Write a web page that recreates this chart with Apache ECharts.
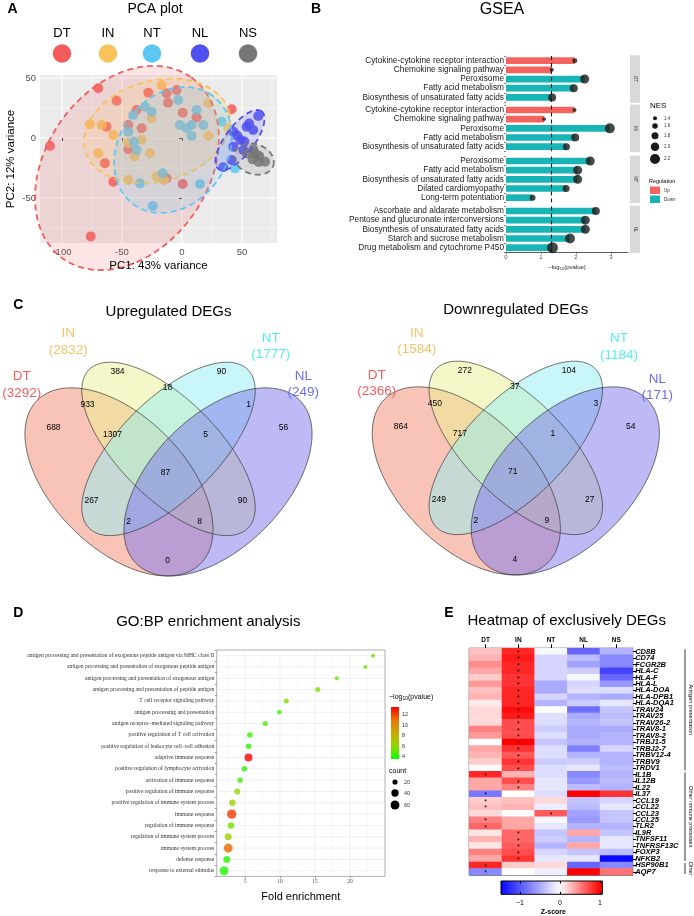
<!DOCTYPE html>
<html>
<head>
<meta charset="utf-8">
<title>figure</title>
<script src="https://cdn.jsdelivr.net/npm/echarts@6.0.0/dist/echarts.min.js"></script>
<style>
  html, body { margin: 0; padding: 0; background: #fff; }
  #fig { width: 694px; height: 916px; }
</style>
</head>
<body>
<div id="fig"></div>
<script>
var SANS = '"Liberation Sans", Arial, Helvetica, sans-serif';
var SERIF = '"Liberation Serif", "Times New Roman", serif';

// ---------- A: PCA ----------
var pcaGroups = ['DT', 'IN', 'NT', 'NL', 'NS'];
var pcaColors = ['#F45C5C', '#F8C35B', '#5DC8F3', '#5050F0', '#777777'];
var pcaDT = [[-69.7,41.4],[-110,-6.7],[-54.4,31.1],[-28,37.8],[-12.8,37.2],[-11.6,29.4],[-4.4,40],[0.6,21.1],[12.2,17.2],[41.4,23.9],[-44.7,10.8],[-33.6,8.1],[-44.7,-9.4],[-37.8,23.3],[-62.8,9.4],[-64.2,-21.1],[-57.2,-36.4],[-12.8,-33.6],[0.6,-38.3],[-76,-82]];
var pcaIN = [[-76.7,11.4],[-66.9,10.8],[-57.2,2.5],[-69.7,-12.8],[-44.7,-4.2],[-33.6,-1.4],[-39.2,-15.3],[-26.7,-12.8],[-25.3,16.4],[-16.9,44.2],[21.9,28.9],[21.9,1.7],[38.6,8.1],[-44.7,-35],[-21.1,-32.2],[-15,-35]];
var pcaNT = [[-40.6,19.2],[-30.8,26.1],[-25.3,21.9],[-44.7,5.3],[-37.8,-10],[-3.1,31.7],[-1.7,10.8],[12.2,23.3],[8.1,10.8],[17.8,10.8],[8.1,1.7],[3.9,8.1],[33.1,13.6],[-16.1,-29.4],[-35,-37.8],[15,-38.3],[-24.4,-56.7],[44.2,-25.3],[-40,-3]];
var pcaNL = [[63.6,18.3],[53.9,9.4],[42.8,5.3],[48.9,-1.7],[42.8,-7.2],[51.1,-10],[41.4,-18.3],[34.4,-24.4],[59.4,6.7],[52,-3],[46,2],[56,12]];
var pcaNS = [[59.4,-9.4],[64.4,-15],[69.2,-19.7],[58.9,-17.8],[53.9,-12.8],[64,-20],[61,-13]];
// confidence ellipses: centre PC1, centre PC2, semi-axis a, semi-axis b, angle (deg)
var pcaEllipses = [[-45.8,-25,92.5,67.5,55],[-20.8,5.8,62,42,15],[-7.5,-10,56,45,54],[48.3,-1.7,30,12,53],[60,-17.5,17,12.5,-20]];
var pcaXTicks = [-100, -50, 0, 50];
var pcaYTicks = [-50, 0, 50];

// ---------- B: GSEA ----------
var gseaFacets = ['DT', 'IN', 'NT', 'NL'];
var gseaTerms = [
  ['Cytokine-cytokine receptor interaction','Chemokine signaling pathway','Peroxisome','Fatty acid metabolism','Biosynthesis of unsaturated fatty acids'],
  ['Cytokine-cytokine receptor interaction','Chemokine signaling pathway','Peroxisome','Fatty acid metabolism','Biosynthesis of unsaturated fatty acids'],
  ['Peroxisome','Fatty acid metabolism','Biosynthesis of unsaturated fatty acids','Dilated cardiomyopathy','Long-term potentiation'],
  ['Ascorbate and aldarate metabolism','Pentose and glucuronate interconversions','Biosynthesis of unsaturated fatty acids','Starch and sucrose metabolism','Drug metabolism and cytochrome P450']
];
var gseaLogP = [[1.97,1.31,2.25,1.94,1.32],[1.96,1.09,2.97,1.98,1.73],[2.41,2.05,2.05,1.72,0.76],[2.57,2.27,2.27,1.83,1.33]];
var gseaNES = [[1.53,1.4,2.07,1.93,1.93],[1.4,1.35,2.2,1.93,1.8],[2.07,2.07,2.07,1.8,1.67],[1.93,2.07,2.07,2.2,2.33]];
var gseaReg = [['Up','Up','Down','Down','Down'],['Up','Up','Down','Down','Down'],['Down','Down','Down','Down','Down'],['Down','Down','Down','Down','Down']];
var gseaNESLegend = [1.4, 1.6, 1.8, 2.0, 2.2];
var gseaCutoff = 1.301;

// ---------- C: Venn ----------
var vennRegions = ['DT','IN','NT','NL','DT&IN','IN&NT','NT&NL','DT&IN&NT','IN&NT&NL','DT&IN&NT&NL','DT&NT','IN&NL','DT&NT&NL','DT&IN&NL','DT&NL'];
var vennUpCounts = [688,384,90,56,933,18,1,1307,5,87,267,90,2,8,0];
var vennDownCounts = [864,272,104,54,450,37,3,717,1,71,249,27,2,9,4];
var vennSets = ['DT','IN','NT','NL'];
var vennUpTotals = [3292,2832,1777,249];
var vennDownTotals = [2366,1584,1184,171];

// ---------- D: GO:BP ----------
var goTerms = ['antigen processing and presentation of exogenous peptide antigen via MHC class II','antigen processing and presentation of exogenous peptide antigen','antigen processing and presentation of exogenous antigen','antigen processing and presentation of peptide antigen','T cell receptor signaling pathway','antigen processing and presentation','antigen receptor\u2212mediated signaling pathway','positive regulation of T cell activation','positive regulation of leukocyte cell\u2212cell adhesion','adaptive immune response','positive regulation of lymphocyte activation','activation of immune response','positive regulation of immune response','positive regulation of immune system process','immune response','regulation of immune response','regulation of immune system process','immune system process','defense response','response to external stimulus'];
var goFold = [23.3,22.2,18.1,15.4,10.9,9.9,7.9,5.7,5.5,5.5,4.9,4.3,3.9,3.2,3.1,3.0,2.6,2.6,2.4,2.0];
var goLogP = [5.6,5.5,5.3,5.6,5.8,4.6,4.8,4.4,4.4,13.4,4.4,4.6,6.1,6.2,12.2,5.6,6.5,11.2,4.3,4.1];
var goCount = [12,12,12,19,19,15,19,23,23,48,23,23,27,32,65,32,37,62,37,60];
var goColorTicks = [4, 6, 8, 10, 12];
var goCountLegend = [20, 40, 60];
var goXTicks = [5, 10, 15, 20];

// ---------- E: heatmap ----------
var heatCols = ['DT', 'IN', 'NT', 'NL', 'NS'];
var heatGenes = ['CD8B','CD74','FCGR2B','HLA-C','HLA-F','HLA-L','HLA-DOA','HLA-DPB1','HLA-DQA1','TRAV24','TRAV25','TRAV26-2','TRAV8-1','TRAV8-2','TRBJ1-5','TRBJ2-7','TRBV12-4','TRBV9','TRDV1','IL1B','IL12B','IL22','IL37','CCL19','CCL22','CCL23','CCL25','TLR2','IL9R','TNFSF11','TNFRSF13C','FOXP3','NFKB2','HSP90B1','AQP7'];
var heatZ = [
  [0.25,0.85,-0.05,-0.9,-0.45],[0.3,0.9,-0.25,-0.4,-0.7],[0.45,0.85,-0.25,-0.55,-0.7],[0.35,0.85,-0.25,-0.3,-1.1],
  [0.2,0.8,-0.25,-0.05,-0.9],[0.4,0.8,-0.5,-0.25,-0.6],[0.25,0.85,-0.5,-0.2,-0.2],[0.3,0.85,-0.25,-0.45,-0.5],
  [0.08,0.85,-0.45,-0.3,-0.15],[0.15,0.95,0.0,-0.85,-0.35],[0.15,0.9,-0.2,-0.5,-0.4],[0.15,0.7,-0.2,-0.45,-0.35],
  [0.5,0.7,-0.3,-0.5,-0.5],[0.4,0.7,-0.2,-0.5,-0.45],[0.0,1.0,-0.35,-0.45,-0.45],[0.35,0.8,-0.2,-0.75,-0.25],
  [0.3,0.65,-0.2,-0.45,-0.45],[0.2,0.8,-0.3,-0.3,-0.45],[0.02,0.7,-0.2,-0.15,-0.4],[0.85,0.3,-0.2,-0.7,-0.45],
  [0.35,0.7,-0.15,-0.6,-0.4],[0.35,0.5,-0.15,-0.4,-0.45],[-0.8,0.0,-0.2,1.0,0.8],[0.2,0.25,0.15,-0.35,-0.25],
  [0.25,0.3,-0.1,-0.4,-0.15],[0.15,0.0,0.65,-0.55,-0.35],[0.5,0.35,-0.05,-0.6,-0.35],[0.6,0.35,-0.15,-0.45,-0.45],
  [0.1,0.6,-0.35,0.35,-0.35],[0.3,0.6,-0.3,-0.45,-0.15],[0.1,0.65,-0.45,0.35,-0.15],[0.5,0.7,-0.25,-0.35,-0.4],
  [0.35,0.8,-0.15,-0.15,-1.45],[0.85,0.2,0.15,-0.9,-0.7],[-0.7,0.0,-0.1,1.0,0.55]
];
var heatStarCol = [1,1,1,1,1,1,1,1,1,1,1,1,1,1,1,1,1,1,1,0,1,1,0,0,0,2,0,0,1,1,1,1,1,0,0];
var heatGroups = ['Antigen presentation', 'Other immune processes', 'Other'];
var heatGroupSizes = [19, 14, 2];
var heatScaleTicks = [-1, 0, 1];

// ---------- colours ----------
var UP = '#F4645F', DOWN = '#17B5B6';
var goStops = ['#00FF00', '#98D700', '#C8AB00', '#E87600', '#FF0000'];
var goMin = 3.6, goMax = 13.4;
var heatStops = ['#0000FF', '#5555FF', '#AAAAFF', '#FFFFFF', '#FF8080', '#FF0000'];
var heatMin = -1.5, heatMax = 1.0;

function hexRgb(h) { return [parseInt(h.substr(1,2),16), parseInt(h.substr(3,2),16), parseInt(h.substr(5,2),16)]; }
function ramp(stops, t) {
  t = Math.max(0, Math.min(1, t));
  var n = stops.length - 1, i = Math.min(Math.floor(t * n), n - 1), f = t * n - i;
  var a = hexRgb(stops[i]), b = hexRgb(stops[i + 1]);
  return 'rgb(' + [0,1,2].map(function (k) { return Math.round(a[k] + (b[k] - a[k]) * f); }).join(',') + ')';
}
function rgba(h, al) { var c = hexRgb(h); return 'rgba(' + c[0] + ',' + c[1] + ',' + c[2] + ',' + al + ')'; }

function txt(x, y, s, size, o) {
  o = o || {};
  return { type: 'text', x: x, y: y, rotation: o.rot || 0, silent: true, z: 10,
    style: { text: s, fontSize: size, fontFamily: o.family || SANS, fontWeight: o.weight || 'normal',
      fontStyle: o.style || 'normal', fill: o.color || '#000', align: o.align || 'center',
      verticalAlign: 'middle', lineHeight: o.lh, rich: o.rich } };
}

// grid lines drawn through the axes of a grid
function gridLines(idx, xRef, yRef, xs, ys, st, z) {
  return { type: 'custom', xAxisIndex: idx, yAxisIndex: idx, silent: true, z: z || 0, clip: true,
    data: [[xRef, yRef]],
    renderItem: function (params, api) {
      var cs = params.coordSys, ch = [];
      xs.forEach(function (v) {
        var x = api.coord([v, yRef])[0];
        ch.push({ type: 'line', shape: { x1: x, y1: cs.y, x2: x, y2: cs.y + cs.height }, style: st });
      });
      ys.forEach(function (v) {
        var y = api.coord([xRef, v])[1];
        ch.push({ type: 'line', shape: { x1: cs.x, y1: y, x2: cs.x + cs.width, y2: y }, style: st });
      });
      return { type: 'group', children: ch };
    } };
}

var grids = [], xAxes = [], yAxes = [], series = [], graphics = [], visualMaps = [];

// ===== A =====
grids.push({ left: 40, top: 75, width: 237, height: 168, show: true, backgroundColor: '#EBEBEB', borderWidth: 0 });
xAxes.push({ gridIndex: 0, type: 'value', min: -118.3, max: 79.2, splitLine: { show: false }, axisLine: { show: false },
  axisTick: { show: true, customValues: pcaXTicks, length: 3, lineStyle: { color: '#333' } },
  axisLabel: { customValues: pcaXTicks, fontSize: 9.5, color: '#4D4D4D', margin: 4, fontFamily: SANS } });
yAxes.push({ gridIndex: 0, type: 'value', min: -87.5, max: 52.5, splitLine: { show: false }, axisLine: { show: false },
  axisTick: { show: true, customValues: pcaYTicks, length: 3, lineStyle: { color: '#333' } },
  axisLabel: { customValues: pcaYTicks, fontSize: 9.5, color: '#4D4D4D', margin: 4, fontFamily: SANS } });
series.push(gridLines(0, 0, 0, [-75, -25, 25, 75], [-75, -25, 25], { stroke: '#FFFFFF', lineWidth: 0.5 }, 0));
series.push(gridLines(0, 0, 0, pcaXTicks, pcaYTicks, { stroke: '#FFFFFF', lineWidth: 1.1 }, 0));
[pcaDT, pcaIN, pcaNT, pcaNL, pcaNS].forEach(function (pts, g) {
  series.push({ type: 'scatter', name: pcaGroups[g], xAxisIndex: 0, yAxisIndex: 0, data: pts, symbolSize: 10, z: 2,
    itemStyle: { color: pcaColors[g], opacity: 0.85 } });
});
series.push({ type: 'custom', xAxisIndex: 0, yAxisIndex: 0, silent: true, z: 3, clip: false, data: pcaEllipses,
  renderItem: function (params, api) {
    var cx = api.value(0), cy = api.value(1), a = api.value(2), b = api.value(3), t = api.value(4) * Math.PI / 180;
    var pts = [];
    for (var k = 0; k < 120; k++) {
      var u = k / 120 * 2 * Math.PI;
      pts.push(api.coord([cx + a * Math.cos(u) * Math.cos(t) - b * Math.sin(u) * Math.sin(t),
                          cy + a * Math.cos(u) * Math.sin(t) + b * Math.sin(u) * Math.cos(t)]));
    }
    var c = pcaColors[params.dataIndex];
    return { type: 'polygon', shape: { points: pts },
      style: { fill: rgba(c, 0.16), stroke: c, lineWidth: 1.8, lineDash: [6, 4] } };
  } });
graphics.push(txt(12.5, 9, 'A', 14, { weight: 'bold' }));
graphics.push(txt(155, 9, 'PCA plot', 14));
var pcaLegX = [62, 108, 152, 200, 248];
pcaGroups.forEach(function (g, i) {
  graphics.push(txt(pcaLegX[i], 33.5, g, 13));
  graphics.push({ type: 'circle', shape: { cx: pcaLegX[i], cy: 53.5, r: 9.3 }, style: { fill: pcaColors[i] }, silent: true });
});
graphics.push(txt(11, 159, 'PC2: 12% variance', 11.5, { rot: Math.PI / 2 }));
graphics.push(txt(158.5, 266, 'PC1: 43% variance', 11.5));

// ===== B =====
var gseaFirstRow = [60.7, 110, 161, 211], gseaStep = 9.17;
function nesSize(n) { return 4 + (n - 1.4) / 0.8 * 6; }
gseaFacets.forEach(function (f, i) {
  var gi = grids.length, top = gseaFirstRow[i] - gseaStep / 2, h = gseaStep * 5;
  grids.push({ left: 506, top: top, width: 122, height: h });
  var last = i === gseaFacets.length - 1;
  xAxes.push({ gridIndex: gi, type: 'value', min: 0, max: 3.49, show: last, splitLine: { show: false },
    axisLine: { show: true, lineStyle: { color: '#333', width: 0.8 } },
    axisTick: { show: true, customValues: [0, 1, 2, 3], length: 2, lineStyle: { color: '#333', width: 0.6 } },
    axisLabel: { customValues: [0, 1, 2, 3], fontSize: 6, color: '#4D4D4D', margin: 2.5, fontFamily: SANS } });
  yAxes.push({ gridIndex: gi, type: 'category', data: gseaTerms[i], inverse: true,
    axisLine: { show: false }, axisTick: { show: true, length: 2, lineStyle: { color: '#333', width: 0.6 } },
    axisLabel: { interval: 0, fontSize: 8.3, color: '#1A1A1A', margin: 2, fontFamily: SANS } });
  series.push({ type: 'bar', xAxisIndex: gi, yAxisIndex: gi, barWidth: 6.7, z: 2,
    data: gseaLogP[i].map(function (v, k) { return { value: v, itemStyle: { color: gseaReg[i][k] === 'Up' ? UP : DOWN } }; }),
    markLine: { silent: true, symbol: ['none', 'none'], label: { show: false },
      lineStyle: { type: [4, 3], color: '#1A1A1A', width: 1.1 }, data: [{ xAxis: gseaCutoff }] } });
  series.push({ type: 'scatter', xAxisIndex: gi, yAxisIndex: gi, z: 4,
    data: gseaLogP[i].map(function (v, k) { return [v, k, gseaNES[i][k]]; }),
    symbolSize: function (v) { return nesSize(v[2]); }, itemStyle: { color: '#1A1A1A' } });
  graphics.push({ type: 'rect', shape: { x: 630, y: top - 0.8, width: 10, height: h + 1.6 }, style: { fill: '#D9D9D9' }, silent: true });
  graphics.push(txt(635, top + h / 2, f, 4.5, { rot: -Math.PI / 2, color: '#1A1A1A' }));
});
graphics.push(txt(316, 9, 'B', 14, { weight: 'bold' }));
graphics.push(txt(502, 9.5, 'GSEA', 16));
graphics.push(txt(567, 267.5, '{a|\u2212log}{s|10}{a|(pvalue)}', 6, { color: '#1A1A1A',
  rich: { a: { fontSize: 6, fontFamily: SANS, fill: '#1A1A1A' }, s: { fontSize: 4, fontFamily: SANS, fill: '#1A1A1A', padding: [3, 0, 0, 0] } } }));
graphics.push(txt(650, 106, 'NES', 8, { align: 'left' }));
var nesLegY = [118.3, 126, 135.7, 146.7, 159];
gseaNESLegend.forEach(function (n, i) {
  graphics.push({ type: 'circle', shape: { cx: 655, cy: nesLegY[i], r: nesSize(n) / 2 }, style: { fill: '#1A1A1A' }, silent: true });
  graphics.push(txt(664, nesLegY[i], n.toFixed(1), 4.5, { align: 'left', color: '#333' }));
});
graphics.push(txt(649, 181, 'Regulation', 5.5, { align: 'left' }));
graphics.push({ type: 'rect', shape: { x: 650, y: 186.5, width: 10, height: 7.5 }, style: { fill: UP }, silent: true });
graphics.push({ type: 'rect', shape: { x: 650, y: 195.5, width: 10, height: 7.5 }, style: { fill: DOWN }, silent: true });
graphics.push(txt(664, 190.3, 'Up', 4.5, { align: 'left', color: '#333' }));
graphics.push(txt(664, 199.3, 'Down', 4.5, { align: 'left', color: '#333' }));

// ===== C =====
var vennScale = 330;
var vennEllipse = [[-0.15, -0.03, 0.35, 0.20, 135], [0, 0.07, 0.34, 0.15, 135], [0, 0.07, 0.34, 0.15, 45], [0.15, -0.03, 0.35, 0.20, 45]];
var vennFill = ['#F38A71', '#E9EF8F', '#93EDF1', '#7B75EB'];
var vennTextColor = ['#F25F5F', '#F5C26A', '#4FEFF1', '#6E6EF0'];
var vennRegionXY = [[-115,-44],[-51,-100],[53,-100],[115,-44],[-81,-67],[-1,-84],[80,-67],[-56,-37],[37,-37],[-3,1],[-77,29],[74,29],[-40,50],[31,50],[-1,89]];
function ellipsePts(cx, cy, a, b, deg) {
  var t = deg * Math.PI / 180, pts = [];
  for (var k = 0; k < 144; k++) {
    var u = k / 144 * 2 * Math.PI;
    pts.push([cx + a * Math.cos(u) * Math.cos(t) - b * Math.sin(u) * Math.sin(t),
              cy - (a * Math.cos(u) * Math.sin(t) + b * Math.sin(u) * Math.cos(t))]);
  }
  return pts;
}
function drawVenn(cx, cy, title, titleY, counts, totals, labelXY) {
  graphics.push(txt(cx, titleY, title, 15));
  var shapes = vennEllipse.map(function (e) {
    return ellipsePts(cx + e[0] * vennScale, cy - e[1] * vennScale, e[2] * vennScale, e[3] * vennScale, e[4]);
  });
  shapes.forEach(function (p, i) {
    graphics.push({ type: 'polygon', shape: { points: p }, style: { fill: rgba(vennFill[i], 0.5) }, silent: true });
  });
  shapes.forEach(function (p) {
    graphics.push({ type: 'polygon', shape: { points: p }, style: { fill: 'none', stroke: 'rgba(50,50,50,0.85)', lineWidth: 0.8 }, silent: true });
  });
  counts.forEach(function (c, i) {
    graphics.push(txt(cx + vennRegionXY[i][0], cy + vennRegionXY[i][1], String(c), 8.5));
  });
  vennSets.forEach(function (s, i) {
    graphics.push(txt(labelXY[i][0], labelXY[i][1], s + '\n(' + totals[i] + ')', 13.5, { color: vennTextColor[i], lh: 16.6 }));
  });
}
graphics.push(txt(18.3, 305, 'C', 14, { weight: 'bold' }));
drawVenn(168.5, 472, 'Upregulated DEGs', 312, vennUpCounts, vennUpTotals, [[21.7, 385], [68.3, 341.7], [270.7, 346.3], [303.3, 384.3]]);
drawVenn(515.8, 471, 'Downregulated DEGs', 310, vennDownCounts, vennDownTotals, [[376.7, 383.3], [416.7, 341.3], [619, 346.7], [657.3, 387.2]]);

// ===== D =====
var dIdx = grids.length;
grids.push({ left: 216.7, top: 650, width: 168.3, height: 226.4, show: true, backgroundColor: '#fff', borderColor: '#9A9A9A', borderWidth: 0.8 });
xAxes.push({ gridIndex: dIdx, type: 'value', min: 0.957, max: 25, splitLine: { show: false }, axisLine: { show: false },
  axisTick: { show: true, customValues: goXTicks, length: 2, lineStyle: { color: '#666', width: 0.6 } },
  axisLabel: { customValues: goXTicks, fontSize: 5.5, color: '#4D4D4D', margin: 2.5, fontFamily: SERIF } });
yAxes.push({ gridIndex: dIdx, type: 'category', data: goTerms, inverse: true, axisLine: { show: false },
  axisTick: { show: true, length: 2, lineStyle: { color: '#666', width: 0.6 } },
  axisLabel: { interval: 0, fontSize: 5.6, color: '#333', margin: 2.5, fontFamily: SERIF } });
series.push(gridLines(dIdx, 5, 0, [2.5, 7.5, 12.5, 17.5, 22.5], [], { stroke: '#F3F3F3', lineWidth: 0.4 }, 0));
series.push(gridLines(dIdx, 5, 0, goXTicks, goTerms.map(function (t, i) { return i; }), { stroke: '#E6E6E6', lineWidth: 0.6 }, 0));
var goSeriesIndex = series.length;
series.push({ type: 'scatter', xAxisIndex: dIdx, yAxisIndex: dIdx, z: 3,
  data: goFold.map(function (v, i) { return [v, i, goLogP[i], goCount[i]]; }),
  symbolSize: function (v) { return 1.15 * Math.sqrt(v[3]); } });
visualMaps.push({ type: 'continuous', show: false, seriesIndex: goSeriesIndex, dimension: 2, min: goMin, max: goMax, inRange: { color: goStops } });
graphics.push(txt(18.3, 613.3, 'D', 14, { weight: 'bold' }));
graphics.push(txt(208.3, 622.3, 'GO:BP enrichment analysis', 15));
graphics.push(txt(300.8, 896.7, 'Fold enrichment', 11));
// colour legend
var goLegTop = 707, goLegH = 52, goLegX = 391;
var goGrad = [];
for (var s = 0; s <= 10; s++) goGrad.push({ offset: s / 10, color: ramp(goStops, 1 - s / 10) });
graphics.push(txt(389, 697, '{a|\u2212log}{s|10}{a|(pvalue)}', 7, { align: 'left',
  rich: { a: { fontSize: 7, fontFamily: SANS }, s: { fontSize: 5, fontFamily: SANS, padding: [3, 0, 0, 0] } } }));
graphics.push({ type: 'rect', shape: { x: goLegX, y: goLegTop, width: 8, height: goLegH }, silent: true,
  style: { fill: new echarts.graphic.LinearGradient(0, 0, 0, 1, goGrad) } });
goColorTicks.forEach(function (v) {
  var y = goLegTop + (goMax - v) / (goMax - goMin) * goLegH;
  graphics.push(txt(goLegX + 11, y, String(v), 5.5, { align: 'left', color: '#333' }));
});
graphics.push(txt(389, 771, 'count', 7, { align: 'left' }));
var goCntY = [782, 793, 805];
goCountLegend.forEach(function (c, i) {
  graphics.push({ type: 'circle', shape: { cx: 395, cy: goCntY[i], r: 1.15 * Math.sqrt(c) / 2 }, style: { fill: '#000' }, silent: true });
  graphics.push(txt(404, goCntY[i], String(c), 5.5, { align: 'left', color: '#333' }));
});

// ===== E =====
var eIdx = grids.length;
grids.push({ left: 469.3, top: 648.3, width: 163.4, height: 226.7, show: true, borderColor: '#000', borderWidth: 1 });
xAxes.push({ gridIndex: eIdx, type: 'category', data: heatCols, position: 'top', splitLine: { show: false },
  axisLine: { show: true, lineStyle: { color: '#000', width: 1 } },
  axisTick: { show: true, alignWithLabel: true, length: 4, lineStyle: { color: '#000' } },
  axisLabel: { fontSize: 6.5, fontWeight: 'bold', color: '#000', margin: 5, fontFamily: SANS } });
yAxes.push({ gridIndex: eIdx, type: 'category', data: heatGenes, inverse: true, position: 'right',
  axisLine: { show: true, lineStyle: { color: '#000', width: 1 } },
  axisTick: { show: true, alignWithLabel: true, length: 3.5, lineStyle: { color: '#000' } },
  axisLabel: { interval: 0, fontSize: 7.5, fontWeight: 'bold', fontStyle: 'italic', color: '#000', margin: 2.5, fontFamily: SANS } });
var heatData = [];
heatZ.forEach(function (row, r) { row.forEach(function (z, c) { heatData.push([c, r, z]); }); });
var heatSeriesIndex = series.length;
series.push({ type: 'heatmap', xAxisIndex: eIdx, yAxisIndex: eIdx, data: heatData,
  label: { show: true, fontSize: 7, color: '#000', offset: [0, 1.5],
    formatter: function (p) { return heatStarCol[p.value[1]] === p.value[0] ? '*' : ''; } },
  itemStyle: { borderWidth: 0 } });
visualMaps.push({ type: 'continuous', show: false, seriesIndex: heatSeriesIndex, dimension: 2, min: heatMin, max: heatMax, inRange: { color: heatStops } });
graphics.push(txt(449, 613.3, 'E', 14, { weight: 'bold' }));
graphics.push(txt(566.7, 620.7, 'Heatmap of exclusively DEGs', 15));
// group brackets
var rowH = 226.7 / heatGenes.length, start = 0;
heatGroups.forEach(function (g, i) {
  var y1 = 648.3 + start * rowH + 1, y2 = 648.3 + (start + heatGroupSizes[i]) * rowH - 1;
  graphics.push({ type: 'line', shape: { x1: 685, y1: y1, x2: 685, y2: y2 }, style: { stroke: '#000', lineWidth: 0.8 }, silent: true });
  graphics.push(txt(691, (y1 + y2) / 2, g, 5.5, { rot: -Math.PI / 2 }));
  start += heatGroupSizes[i];
});
// colour bar for z-score
var cbIdx = grids.length, cbMin = -1.475, cbMax = 1.06;
var cbStops = [];
for (var k = 0; k <= 20; k++) {
  var v = cbMin + (cbMax - cbMin) * k / 20;
  cbStops.push({ offset: k / 20, color: ramp(heatStops, (v - heatMin) / (heatMax - heatMin)) });
}
grids.push({ left: 501, top: 881, width: 101.3, height: 13.3, show: true, borderColor: '#000', borderWidth: 1,
  backgroundColor: new echarts.graphic.LinearGradient(0, 0, 1, 0, cbStops) });
xAxes.push({ gridIndex: cbIdx, type: 'value', min: cbMin, max: cbMax, splitLine: { show: false }, axisLine: { show: false },
  axisTick: { show: true, inside: true, customValues: heatScaleTicks, length: 2.5, lineStyle: { color: '#000' } },
  axisLabel: { customValues: heatScaleTicks, fontSize: 7, color: '#000', margin: 5, fontFamily: SANS,
    formatter: function (v) { return v < 0 ? '\u2212' + Math.abs(v) : String(v); } } });
xAxes.push({ gridIndex: cbIdx, type: 'value', position: 'top', min: cbMin, max: cbMax, splitLine: { show: false }, axisLine: { show: false },
  axisTick: { show: true, inside: true, customValues: heatScaleTicks, length: 2.5, lineStyle: { color: '#000' } },
  axisLabel: { show: false } });
yAxes.push({ gridIndex: cbIdx, type: 'value', show: false, min: 0, max: 1 });
graphics.push(txt(553.3, 912, 'Z-score', 7, { weight: 'bold' }));

var chart = echarts.init(document.getElementById('fig'), null, { renderer: 'canvas' });
chart.setOption({
  animation: false,
  backgroundColor: '#fff',
  textStyle: { fontFamily: SANS },
  grid: grids,
  xAxis: xAxes,
  yAxis: yAxes,
  visualMap: visualMaps,
  series: series,
  graphic: { elements: graphics }
});
</script>
</body>
</html>
